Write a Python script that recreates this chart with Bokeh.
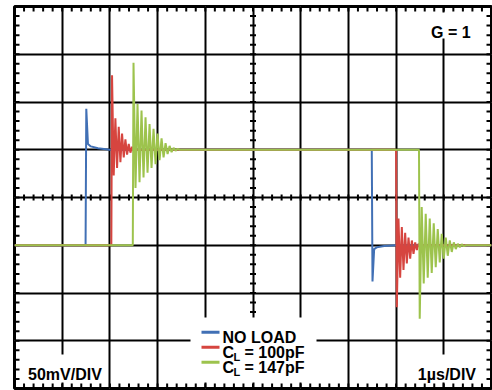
import numpy as np
from bokeh.plotting import figure
from bokeh.models import Range1d, Grid, FixedTicker, Label, BoxAnnotation
from bokeh.embed import file_html
from bokeh.resources import INLINE

# ---------------- data ----------------
# time in µs (1 µs/DIV), voltage in mV (50 mV/DIV)
t_noload = [0.0, 1.49, 1.505, 1.54, 1.60, 1.75, 2.0,
            7.49, 7.505, 7.54, 7.60, 7.75, 8.0, 10.0]
v_noload = [-50, -50, 93, 56, 53.5, 51.5, 50,
            50, -88, -54, -52, -50.8, -50, -50]

t_100pf = [0.0, 2.03, 2.045, 2.08, 2.115, 2.15, 2.185, 2.22, 2.255, 2.29, 2.325,
           2.36, 2.395, 2.43, 2.465, 2.50, 2.535, 2.57,
           8.0, 8.015, 8.05, 8.085, 8.12, 8.155, 8.19, 8.225, 8.26, 8.295,
           8.33, 8.365, 8.40, 8.435, 8.47, 8.505, 8.54, 10.0]
v_100pf = [-50, -50, 128, 23, 83, 31, 74, 37, 67, 42, 61,
           45, 56, 47, 53, 48.5, 51, 50,
           50, -115, -22, -84, -31, -76, -37, -69, -42, -64,
           -45, -59, -47, -55, -48.5, -52, -50, -50]

t_147pf = [0.0, 2.48, 2.495, 2.537, 2.579, 2.621, 2.663, 2.705, 2.747, 2.789,
           2.831, 2.873, 2.915, 2.957, 2.999, 3.041, 3.083, 3.125, 3.167,
           3.209, 3.251, 3.293, 3.335, 3.377, 3.419, 3.461,
           8.48, 8.495, 8.537, 8.579, 8.621, 8.663, 8.705, 8.747, 8.789,
           8.831, 8.873, 8.915, 8.957, 8.999, 9.041, 9.083, 9.125, 9.167,
           9.209, 9.251, 9.293, 9.335, 9.377, 9.419, 9.461, 10.0]
v_147pf = [-50, -50, 141, 10, 98, 16, 91, 21, 84, 26,
           77, 31, 72, 35, 67, 39, 62, 42, 57,
           45.5, 54, 47.5, 52, 49, 51, 50,
           50, -127, -10, -90, -17, -84, -22, -79, -27,
           -73, -33, -68, -38, -64, -42, -61, -45, -57,
           -47, -54, -48.5, -52, -49, -51, -50, -50]

series_names = ["NO LOAD", "100pF", "147pF"]
series_colors = ["#4170b5", "#d6453f", "#9dc34d"]

x_div_ticks = [1, 2, 3, 4, 5, 6, 7, 8, 9]
y_div_ticks = [-150, -100, -50, 0, 50, 100, 150]

gain_label = "G = 1"
vdiv_label = "50mV/DIV"
tdiv_label = "1µs/DIV"

# ---------------- layout ----------------
W, H = 492, 390
ML, MR, MT, MB = 14, 1, 6, 2
FW, FH = W - ML - MR, H - MT - MB
X0, X1, Y0, Y1 = 0.0, 10.0, -200.0, 200.0
OX, OY = 0, 0  # page offset of the figure


def dx(px):  # page pixel -> data x
    return X0 + (px - OX - ML) / FW * (X1 - X0)


def dy(py):  # page pixel -> data y
    return Y1 - (py - OY - MT) / FH * (Y1 - Y0)


pxx = (X1 - X0) / FW
pxy = (Y1 - Y0) / FH

p = figure(width=W, height=H, output_backend="svg", toolbar_location=None,
           x_range=Range1d(X0, X1), y_range=Range1d(Y0, Y1),
           x_axis_location=None, y_axis_location=None,
           min_border_left=ML, min_border_right=MR,
           min_border_top=MT, min_border_bottom=MB)
p.background_fill_color = "white"
p.border_fill_color = "white"
p.outline_line_color = "black"
p.outline_line_width = 3
p.outline_line_alpha = 1.0

for dim, ticks in ((0, x_div_ticks), (1, y_div_ticks)):
    g = Grid(dimension=dim, ticker=FixedTicker(ticks=ticks))
    g.grid_line_color = "black"
    g.grid_line_width = 2
    p.add_layout(g)

# minor ticks (5 per division)
xm = np.arange(1, 50) * 0.2
ym = Y0 + np.arange(1, 40) * 10.0
el = 5  # edge tick length px
cl = 3  # centre tick half-length px
tick_kw = dict(line_color="black", line_width=2)
p.segment(x0=xm, y0=np.full_like(xm, Y1), x1=xm, y1=np.full_like(xm, Y1 - el * pxy), **tick_kw)
p.segment(x0=xm, y0=np.full_like(xm, Y0), x1=xm, y1=np.full_like(xm, Y0 + el * pxy), **tick_kw)
p.segment(x0=np.full_like(ym, X0), y0=ym, x1=np.full_like(ym, X0 + el * pxx), y1=ym, **tick_kw)
p.segment(x0=np.full_like(ym, X1), y0=ym, x1=np.full_like(ym, X1 - el * pxx), y1=ym, **tick_kw)
p.segment(x0=xm, y0=np.full_like(xm, -cl * pxy), x1=xm, y1=np.full_like(xm, cl * pxy), **tick_kw)
p.segment(x0=np.full_like(ym, 5 - cl * pxx), y0=ym, x1=np.full_like(ym, 5 + cl * pxx), y1=ym, **tick_kw)

# traces
for (t, v), c in zip(((t_noload, v_noload), (t_100pf, v_100pf), (t_147pf, v_147pf)), series_colors):
    p.line(t, v, line_color=c, line_width=2)


def white_box(l, r, t, b):
    p.add_layout(BoxAnnotation(left=dx(l), right=dx(r), top=dy(t), bottom=dy(b),
                               fill_color="white", fill_alpha=1.0, line_alpha=0))


white_box(420, 484, 12, 38)      # G = 1
white_box(20, 106, 354, 382)     # 50mV/DIV
white_box(410, 484, 354, 382)    # 1µs/DIV
white_box(190, 316, 317, 382)    # legend

FONT = "Liberation Sans"


def lab(px, py, text, size="16px", align="left"):
    p.add_layout(Label(x=dx(px), y=dy(py), text=text, text_font=FONT,
                       text_font_size=size, text_font_style="bold",
                       text_color="black", text_align=align,
                       text_baseline="alphabetic"))


lab(450.3, 32, gain_label, align="center")
lab(27.5, 374.3, vdiv_label)
lab(475.5, 374.3, tdiv_label, align="right")

# legend
sw_y = [331.7, 346.7, 361.7]
for yy, c in zip(sw_y, series_colors):
    p.add_layout(BoxAnnotation(left=dx(201), right=dx(219), top=dy(yy - 1.5), bottom=dy(yy + 1.5),
                               fill_color=c, fill_alpha=1.0, line_alpha=0))
lab(222, 336.7, series_names[0])
for base, name in ((351.7, series_names[1]), (367.2, series_names[2])):
    lab(222, base, "C")
    lab(233, base + 4.3, "L", size="11px")
    lab(244, base, "= " + name)

open("out.html", "w").write(file_html(p, INLINE))
